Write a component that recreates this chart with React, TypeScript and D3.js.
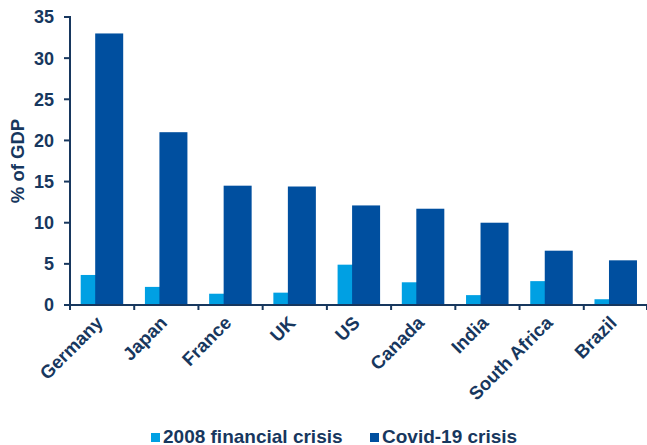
import React from "react";
import * as d3 from "d3";

const categories = ["Germany", "Japan", "France", "UK", "US", "Canada", "India", "South Africa", "Brazil"];
const crisis2008 = [3.65, 2.2, 1.37, 1.5, 4.9, 2.76, 1.2, 2.9, 0.7];
const covid19 = [33, 21, 14.5, 14.4, 12.1, 11.7, 10, 6.6, 5.43];
const yTicks = [0, 5, 10, 15, 20, 25, 30, 35];
const seriesNames = ["2008 financial crisis", "Covid-19 crisis"];

const W = 647, H = 445;
const LIGHT = "#00A0E3";
const DARK = "#004F9F";
const AXIS = "#17375E";
const FONT = "'Liberation Sans', Arial, sans-serif";

export default function App() {
  const x = d3.scaleBand<string>().domain(categories).range([70, 648]).paddingInner(0).paddingOuter(0);
  const y = d3.scaleLinear().domain([0, 35]).range([305, 17]);
  const step = x.step();
  const barW = 28;
  const groupOffset = 10.7;
  const darkShift = 14.5;

  return (
    <svg width={W} height={H} style={{ position: "absolute", left: 0, top: 0, background: "#fff" }}>
      {categories.map((c, i) => {
        const x0 = (x(c) as number) + groupOffset;
        return (
          <g key={c}>
            <rect x={x0} y={y(crisis2008[i])} width={barW} height={y(0) - y(crisis2008[i])} fill={LIGHT} />
            <rect x={x0 + darkShift} y={y(covid19[i])} width={barW} height={y(0) - y(covid19[i])} fill={DARK} />
          </g>
        );
      })}
      {/* y axis */}
      <line x1={70} x2={70} y1={16} y2={306} stroke={AXIS} strokeWidth={2} />
      {yTicks.map((t) => (
        <g key={t}>
          <line x1={64} x2={70} y1={y(t)} y2={y(t)} stroke={AXIS} strokeWidth={2} />
          <text x={54} y={y(t)} dy="0.36em" textAnchor="end" fontFamily={FONT} fontWeight="bold" fontSize={18} fill={AXIS}>
            {t}
          </text>
        </g>
      ))}
      {/* x axis */}
      <line x1={69} x2={648} y1={305} y2={305} stroke={AXIS} strokeWidth={2} />
      {categories.map((c) => (
        <line key={"t" + c} x1={x(c) as number} x2={x(c) as number} y1={305} y2={310} stroke={AXIS} strokeWidth={2} />
      ))}
      <line x1={647} x2={647} y1={305} y2={310} stroke={AXIS} strokeWidth={2} />
      {categories.map((c) => {
        const cx = (x(c) as number) + step / 2;
        return (
          <text
            key={"l" + c}
            transform={`translate(${cx + 2},${324}) rotate(-45)`}
            textAnchor="end"
            fontFamily={FONT}
            fontWeight="bold"
            fontSize={18.5}
            fill={AXIS}
          >
            {c}
          </text>
        );
      })}
      {/* y title */}
      <text
        transform={`translate(24,${(17 + 305) / 2}) rotate(-90)`}
        textAnchor="middle"
        fontFamily={FONT}
        fontWeight="bold"
        fontSize={18.5}
        fill={AXIS}
      >
        % of GDP
      </text>
      {/* legend */}
      <rect x={151} y={433} width={9} height={9} fill={LIGHT} />
      <text x={163} y={442.5} fontFamily={FONT} fontWeight="bold" fontSize={19} fill={AXIS}>
        {seriesNames[0]}
      </text>
      <rect x={370} y={433} width={9} height={9} fill={DARK} />
      <text x={382} y={442.5} fontFamily={FONT} fontWeight="bold" fontSize={19} fill={AXIS}>
        {seriesNames[1]}
      </text>
    </svg>
  );
}
